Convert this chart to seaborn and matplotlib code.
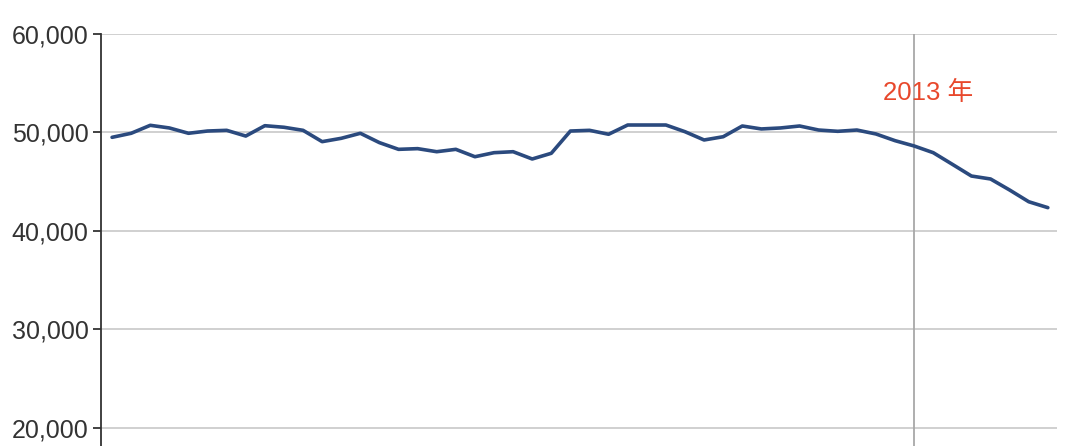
import numpy as np
import pandas as pd
import matplotlib
matplotlib.use("Agg")
import matplotlib.pyplot as plt
import seaborn as sns
from matplotlib.ticker import FuncFormatter

# yearly values
years = list(range(1971, 2021))
values = [49510, 49920, 50730, 50460, 49920, 50150, 50220, 49640, 50690, 50530,
          50220, 49070, 49410, 49920, 48970, 48290, 48360, 48050, 48290, 47540,
          47950, 48050, 47310, 47890, 50150, 50220, 49820, 50760, 50760, 50760,
          50080, 49240, 49570, 50660, 50360, 50460, 50660, 50250, 50120, 50250,
          49850, 49170, 48630, 47950, 46770, 45580, 45280, 44160, 42970, 42370]
mark_year = 2013
mark_label = "2013 年"
yticks = [20000, 30000, 40000, 50000, 60000]

df = pd.DataFrame({"year": years, "value": values})

sns.set_style("white")
plt.rcParams['font.family'] = ['Liberation Sans', 'Noto Sans CJK SC', 'DejaVu Sans']

fig = plt.figure(figsize=(10.8, 4.46), dpi=100)
ax = fig.add_axes([101 / 1080, 0, (1057 - 101) / 1080, (446 - 34) / 446])

for t in yticks:
    ax.axhline(t, color="#c8c8c8", lw=1.2, zorder=0)
ax.axvline(mark_year, color="#a8a8a8", lw=1.3, zorder=1)

sns.lineplot(data=df, x="year", y="value", ax=ax, color="#2b4a7e", lw=2.6, zorder=3)

ax.text(mark_year + 0.75, 54000, mark_label, color="#e8482c", fontsize=18.5,
        ha="center", va="center", family=['Liberation Sans', 'Noto Sans CJK SC'])

ax.set_xlim(1970.42, 2020.48)
ax.set_ylim(18170, 60000)
ax.set_yticks(yticks)
ax.yaxis.set_major_formatter(FuncFormatter(lambda v, p: f"{int(v):,}"))
ax.set_xticks([])
ax.set_xlabel("")
ax.set_ylabel("")
ax.tick_params(axis="y", left=True, length=6, width=1.3, color="#333333",
               labelsize=18, labelcolor="#333333", pad=3)
for s in ["top", "right", "bottom"]:
    ax.spines[s].set_visible(False)
ax.spines["left"].set_color("#333333")
ax.spines["left"].set_linewidth(1.3)

fig.savefig("out.png", dpi=100)
